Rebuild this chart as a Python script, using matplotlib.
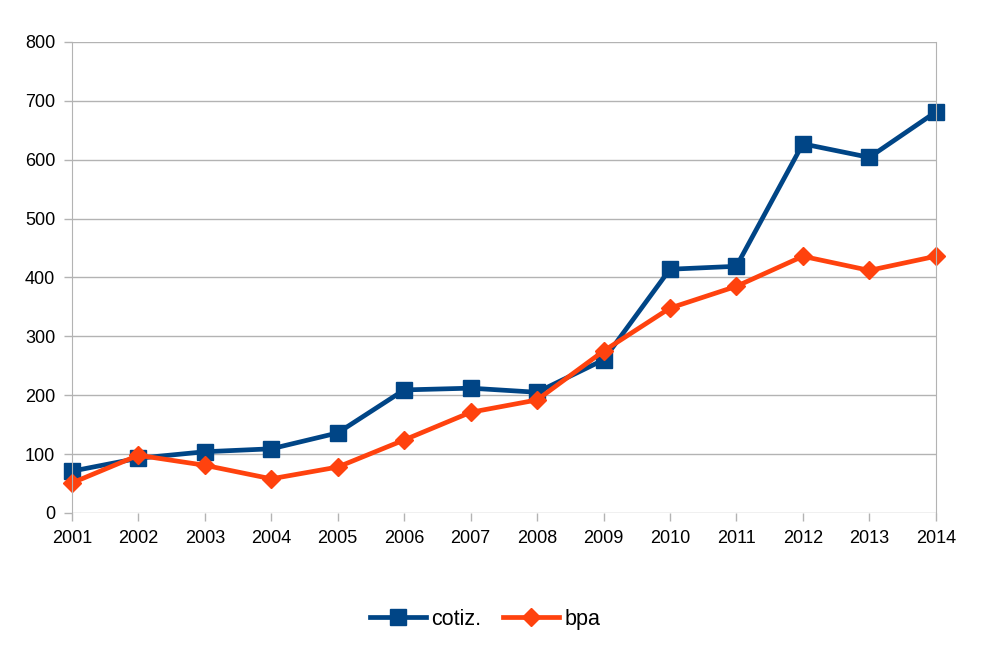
import matplotlib.pyplot as plt

years = ['2001', '2002', '2003', '2004', '2005', '2006', '2007',
         '2008', '2009', '2010', '2011', '2012', '2013', '2014']
cotiz = [71, 93, 104, 109, 136, 209, 212, 205, 260, 414, 419, 627, 604, 681]
bpa = [51, 98, 81, 58, 78, 124, 171, 192, 275, 348, 385, 436, 412, 436]

plt.rcParams['font.family'] = ['Liberation Sans', 'DejaVu Sans']

fig = plt.figure(figsize=(9.86, 6.49), dpi=100)
ax = fig.add_axes([0.073, 0.2096, 0.876, 0.7257])

x = range(len(years))
ax.plot(x, cotiz, color='#004586', lw=3.4, marker='s', ms=12, label='cotiz.', clip_on=False)
ax.plot(x, bpa, color='#ff420e', lw=3.4, marker='D', ms=9.5, label='bpa', clip_on=False)

ax.set_xlim(0, len(years) - 1)
ax.set_ylim(0, 800)
ax.set_yticks(range(0, 801, 100))
ax.set_xticks(list(x))
ax.set_xticklabels(years)
ax.tick_params(labelsize=13, color='#b3b3b3', length=6, width=1, pad=6)
ax.grid(axis='y', color='#b3b3b3', lw=1)
ax.set_axisbelow(True)
for side in ['top', 'bottom']:
    ax.spines[side].set_visible(False)
for side in ['left', 'right']:
    ax.spines[side].set_color('#b3b3b3')

fig.legend(loc='center', bbox_to_anchor=(0.492, 0.046), ncol=2, frameon=False,
           fontsize=15.5, handlelength=2.6, handletextpad=0.25, columnspacing=1.0)

fig.savefig('out.png')
